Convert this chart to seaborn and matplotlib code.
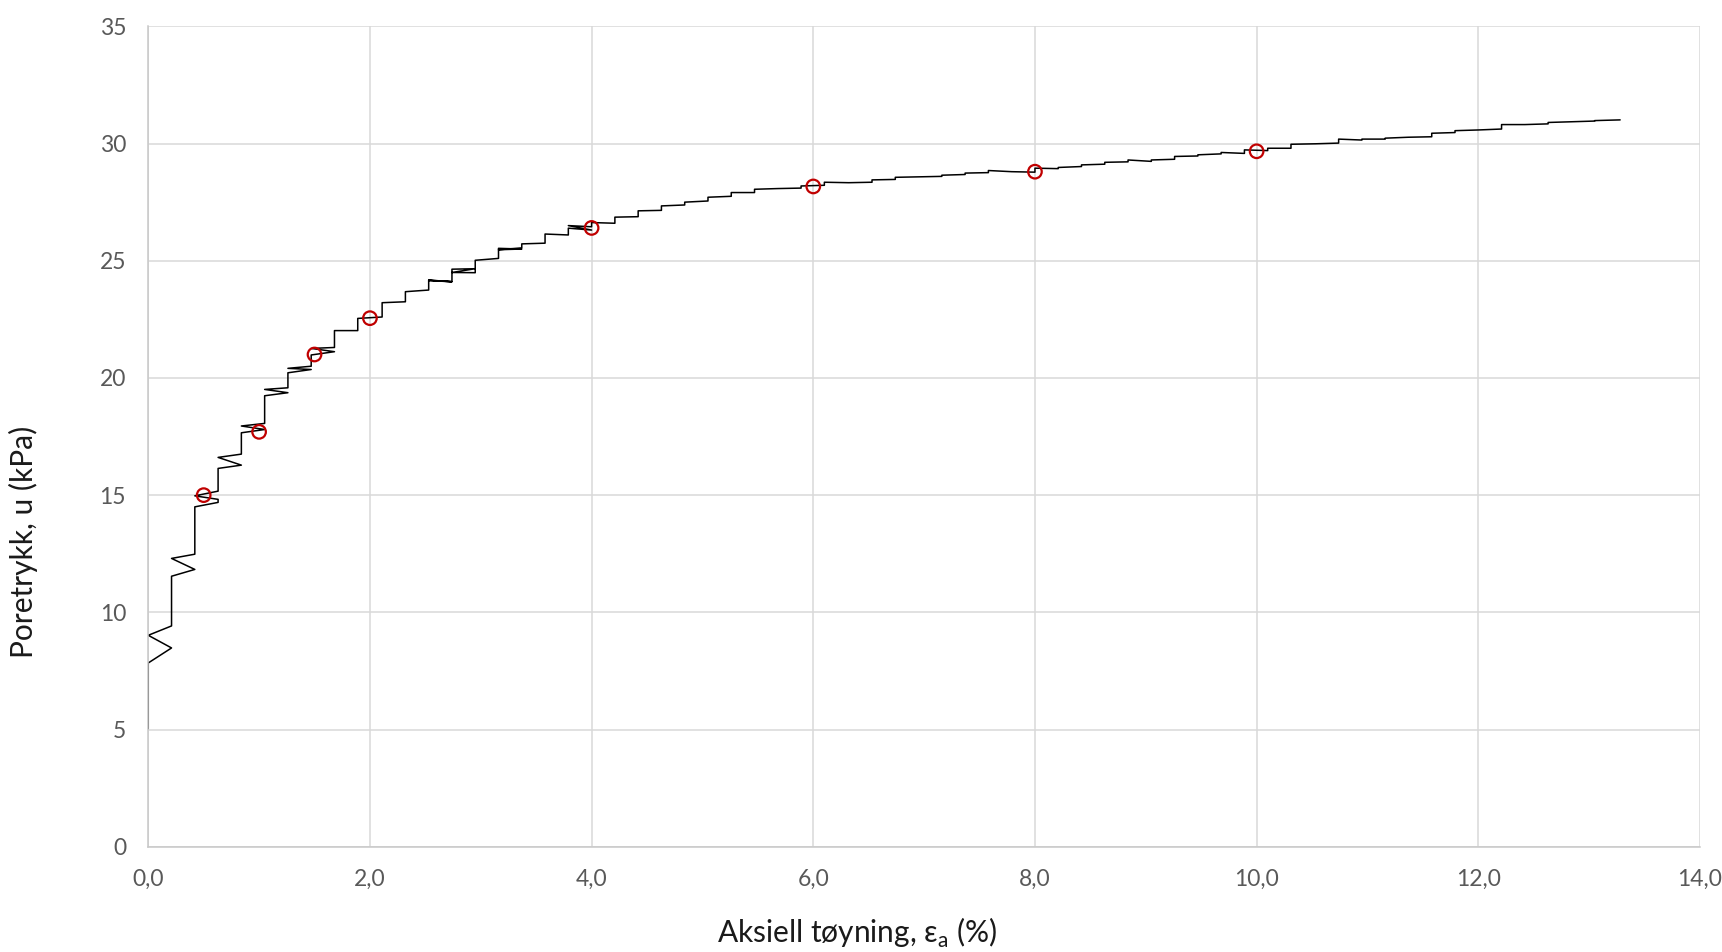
import matplotlib
matplotlib.use("Agg")
import matplotlib.pyplot as plt
import seaborn as sns
import pandas as pd
from matplotlib.ticker import FuncFormatter, MultipleLocator

# Måleserie (aflest fra figuren): aksiell tøyning (%) og poretrykk (kPa)
toyning = [
    0.00, 0.00, 0.21, 0.00, 0.21, 0.21, 0.42, 0.21, 0.42, 0.42, 0.63, 0.63, 0.42, 0.63,
    0.63, 0.84, 0.63, 0.84, 0.84, 1.05, 0.84, 1.05, 1.05, 1.26, 1.05, 1.26,
    1.26, 1.47, 1.26, 1.47, 1.47, 1.68, 1.47, 1.68, 1.68, 1.89, 1.89, 2.11,
    2.11, 2.32, 2.32, 2.53, 2.53, 2.74, 2.53, 2.74, 2.74, 2.95, 2.74, 2.95,
    2.95, 3.16, 3.16, 3.37, 3.16, 3.37, 3.37, 3.58, 3.58, 3.79, 3.79, 4.00, 3.79, 4.00,
    4.00, 4.21, 4.21, 4.42, 4.42, 4.63, 4.63, 4.84, 4.84, 5.05, 5.05, 5.26,
    5.26, 5.47, 5.47, 5.68, 5.89, 5.89, 6.10, 6.10, 6.32, 6.53, 6.53, 6.74,
    6.74, 6.95, 7.16, 7.16, 7.37, 7.37, 7.58, 7.58, 7.79, 8.00, 8.00, 8.21,
    8.21, 8.42, 8.42, 8.63, 8.63, 8.84, 8.84, 9.05, 9.05, 9.26, 9.26, 9.47,
    9.47, 9.68, 9.68, 9.89, 9.89, 10.10, 10.10, 10.31, 10.31, 10.53, 10.74,
    10.74, 10.95, 10.95, 11.16, 11.16, 11.37, 11.58, 11.58, 11.79, 11.79,
    12.00, 12.21, 12.21, 12.42, 12.63, 12.63, 12.84, 13.05, 13.05, 13.28,
]
poretrykk = [
    5.04, 7.84, 8.48, 9.02, 9.42, 11.54, 11.83, 12.30, 12.48, 14.50, 14.69, 14.82, 14.97, 15.17,
    16.14, 16.28, 16.61, 16.75, 17.66, 17.80, 17.95, 18.06, 19.24, 19.37, 19.51, 19.58,
    20.22, 20.36, 20.41, 20.50, 20.98, 21.12, 21.26, 21.30, 22.02, 22.02, 22.54, 22.60,
    23.21, 23.25, 23.68, 23.75, 24.18, 24.10, 24.16, 24.12, 24.64, 24.66, 24.50, 24.49,
    25.02, 25.10, 25.53, 25.50, 25.47, 25.55, 25.72, 25.75, 26.14, 26.10, 26.39, 26.31, 26.50, 26.45,
    26.63, 26.60, 26.86, 26.88, 27.13, 27.15, 27.34, 27.38, 27.50, 27.55, 27.71, 27.75,
    27.91, 27.91, 28.05, 28.08, 28.10, 28.19, 28.22, 28.35, 28.33, 28.35, 28.45, 28.47,
    28.56, 28.58, 28.60, 28.65, 28.68, 28.74, 28.76, 28.85, 28.80, 28.78, 28.95, 28.93,
    28.98, 29.02, 29.09, 29.12, 29.20, 29.22, 29.30, 29.24, 29.30, 29.33, 29.45, 29.47,
    29.52, 29.56, 29.62, 29.58, 29.73, 29.70, 29.80, 29.80, 29.97, 29.99, 30.02,
    30.19, 30.15, 30.19, 30.19, 30.23, 30.27, 30.29, 30.44, 30.47, 30.55,
    30.58, 30.62, 30.81, 30.81, 30.84, 30.90, 30.93, 30.96, 30.98, 31.01,
]

# Utvalgte punkter (røde sirkler)
punkt_toyning = [0.5, 1.0, 1.5, 2.0, 4.0, 6.0, 8.0, 10.0]
punkt_poretrykk = [15.0, 17.7, 21.0, 22.55, 26.4, 28.17, 28.8, 29.67]

df = pd.DataFrame({"toyning": toyning, "poretrykk": poretrykk})
df_punkt = pd.DataFrame({"toyning": punkt_toyning, "poretrykk": punkt_poretrykk})

sns.set_style("whitegrid")
plt.rcParams["font.family"] = ["Lato", "DejaVu Sans"]

fig = plt.figure(figsize=(17.22, 9.52), dpi=100)
ax = fig.add_axes([0.0861, 0.1106, 0.9011, 0.8617])

sns.lineplot(data=df, x="toyning", y="poretrykk", sort=False, estimator=None,
             color="black", linewidth=1.1, ax=ax)
sns.scatterplot(data=df_punkt, x="toyning", y="poretrykk", marker="o", s=95,
                facecolors="none", edgecolor="#c00000", linewidth=1.6, ax=ax, zorder=5)

ax.set_xlim(0, 14)
ax.set_ylim(0, 35)
ax.xaxis.set_major_locator(MultipleLocator(2))
ax.yaxis.set_major_locator(MultipleLocator(5))
ax.xaxis.set_major_formatter(FuncFormatter(lambda v, p: f"{v:.1f}".replace(".", ",")))
ax.yaxis.set_major_formatter(FuncFormatter(lambda v, p: f"{v:.0f}"))

ax.grid(True, color="#d9d9d9", linewidth=1.1)
for side in ["top", "right"]:
    ax.spines[side].set_visible(False)
for side in ["left", "bottom"]:
    ax.spines[side].set_color("#c8c8c8")
    ax.spines[side].set_linewidth(1.1)

ax.tick_params(axis="both", length=0, labelsize=16.5, labelcolor="#595959")
ax.tick_params(axis="x", pad=16)
ax.tick_params(axis="y", pad=16)

ax.set_xlabel(r"Aksiell tøyning, ε$_\mathregular{a}$ (%)", fontsize=21.5, color="#1a1a1a")
ax.set_ylabel("Poretrykk, u (kPa)", fontsize=21.5, color="#1a1a1a")
ax.xaxis.set_label_coords(0.457, -0.084)
ax.yaxis.set_label_coords(-0.071, 0.371)

fig.savefig("out.png", dpi=100)
